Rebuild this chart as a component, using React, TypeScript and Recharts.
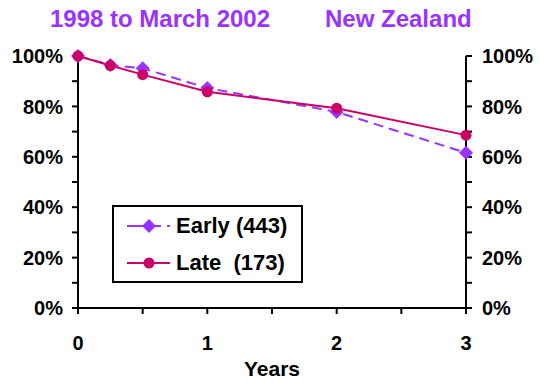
import React from 'react';
import { LineChart, Line, XAxis, YAxis } from 'recharts';

const years = [0, 0.25, 0.5, 1, 2, 3];
const early = [100, 96.4, 95.1, 87.3, 77.8, 61.6];
const late = [100, 96.2, 92.6, 85.8, 79.3, 68.6];
const xTicks = [0, 0.5, 1, 1.5, 2, 2.5, 3];
const yTicks = [0, 10, 20, 30, 40, 50, 60, 70, 80, 90, 100];

const FONT = '"Liberation Sans", Arial, sans-serif';
const PURPLE = '#9933FF';
const CRIMSON = '#CC0066';

const data = years.map((y, i) => ({ year: y, early: early[i], late: late[i] }));

const Diamond = (props: any) => {
    const { cx, cy } = props;
    if (cx == null || cy == null) return null;
    const r = 7;
    return <polygon points={`${cx},${cy - r} ${cx + r},${cy} ${cx},${cy + r} ${cx - r},${cy}`} fill={PURPLE} />;
};

// legend box drawn over the plot, like the original
const LegendBox = () => (
    <div style={{
        position: 'absolute',
        left: 112,
        top: 205,
        width: 187,
        height: 74,
        border: '2px solid #000',
        background: '#fff',
        fontFamily: FONT,
        fontWeight: 'bold',
        fontSize: 22,
        color: '#000'
    }}>
        <svg width={62} height={74} style={{ position: 'absolute', left: 0, top: 0 }}>
            <line x1={13} x2={47} y1={19} y2={19} stroke={PURPLE} strokeWidth={2} />
            <line x1={53} x2={56} y1={19} y2={19} stroke={PURPLE} strokeWidth={2} />
            <polygon points="35,12 42,19 35,26 28,19" fill={PURPLE} />
            <line x1={13} x2={56} y1={56} y2={56} stroke={CRIMSON} strokeWidth={2} />
            <circle cx={35} cy={56} r={5.5} fill={CRIMSON} />
        </svg>
        <div style={{ position: 'absolute', left: 62, top: 6, lineHeight: '26px', whiteSpace: 'pre' }}>Early (443)</div>
        <div style={{ position: 'absolute', left: 62, top: 43, lineHeight: '26px', whiteSpace: 'pre' }}>Late  (173)</div>
    </div>
);

const tickStyle = { fill: '#000', fontSize: 20, fontWeight: 'bold', fontFamily: FONT };

const App = () => (
    <div style={{ position: 'absolute', left: 0, top: 0, width: 540, height: 382, background: '#fff' }}>
        <div style={{
            position: 'absolute', top: 7, left: 0, width: 320, textAlign: 'center',
            color: PURPLE, fontFamily: FONT, fontWeight: 'bold', fontSize: 24, lineHeight: '24px', whiteSpace: 'nowrap'
        }}>1998 to March 2002</div>
        <div style={{
            position: 'absolute', top: 7, left: 325,
            color: PURPLE, fontFamily: FONT, fontWeight: 'bold', fontSize: 24, lineHeight: '24px', whiteSpace: 'nowrap'
        }}>New Zealand</div>
        <div style={{ position: 'absolute', left: 0, top: 0 }}>
            <LineChart
                width={540}
                height={382}
                data={data}
                margin={{ top: 56, right: 0, left: 0, bottom: 0 }}
            >
                <XAxis
                    dataKey="year"
                    type="number"
                    domain={[0, 3]}
                    ticks={xTicks}
                    interval={0}
                    height={74}
                    axisLine={{ stroke: '#000', strokeWidth: 2 }}
                    tickLine={{ stroke: '#000', strokeWidth: 2 }}
                    tickSize={6}
                    tickMargin={22}
                    tick={tickStyle}
                    tickFormatter={(v: number) => (Number.isInteger(v) ? String(v) : '')}
                    label={{ value: 'Years', position: 'insideBottom', offset: 6, style: { ...tickStyle, fontSize: 21 } }}
                />
                <YAxis
                    yAxisId="left"
                    type="number"
                    domain={[0, 100]}
                    ticks={yTicks}
                    interval={0}
                    width={78}
                    axisLine={{ stroke: '#000', strokeWidth: 2 }}
                    tickLine={{ stroke: '#000', strokeWidth: 2 }}
                    tickSize={6}
                    tickMargin={9}
                    tick={tickStyle}
                    tickFormatter={(v: number) => (v % 20 === 0 ? `${v}%` : '')}
                />
                <YAxis
                    yAxisId="right"
                    type="number"
                    orientation="right"
                    domain={[0, 100]}
                    ticks={yTicks}
                    interval={0}
                    width={74}
                    axisLine={{ stroke: '#000', strokeWidth: 2 }}
                    tickLine={{ stroke: '#000', strokeWidth: 2 }}
                    tickSize={6}
                    tickMargin={10}
                    tick={tickStyle}
                    tickFormatter={(v: number) => (v % 20 === 0 ? `${v}%` : '')}
                />
                <Line
                    yAxisId="left"
                    type="linear"
                    dataKey="early"
                    name="Early (443)"
                    stroke={PURPLE}
                    strokeWidth={2}
                    strokeDasharray="10 6"
                    dot={<Diamond />}
                    isAnimationActive={false}
                />
                <Line
                    yAxisId="right"
                    type="linear"
                    dataKey="late"
                    name="Late (173)"
                    stroke={CRIMSON}
                    strokeWidth={2}
                    dot={{ r: 5.5, fill: CRIMSON, stroke: 'none' }}
                    isAnimationActive={false}
                />
            </LineChart>
        </div>
        <LegendBox />
    </div>
);

export default App;
